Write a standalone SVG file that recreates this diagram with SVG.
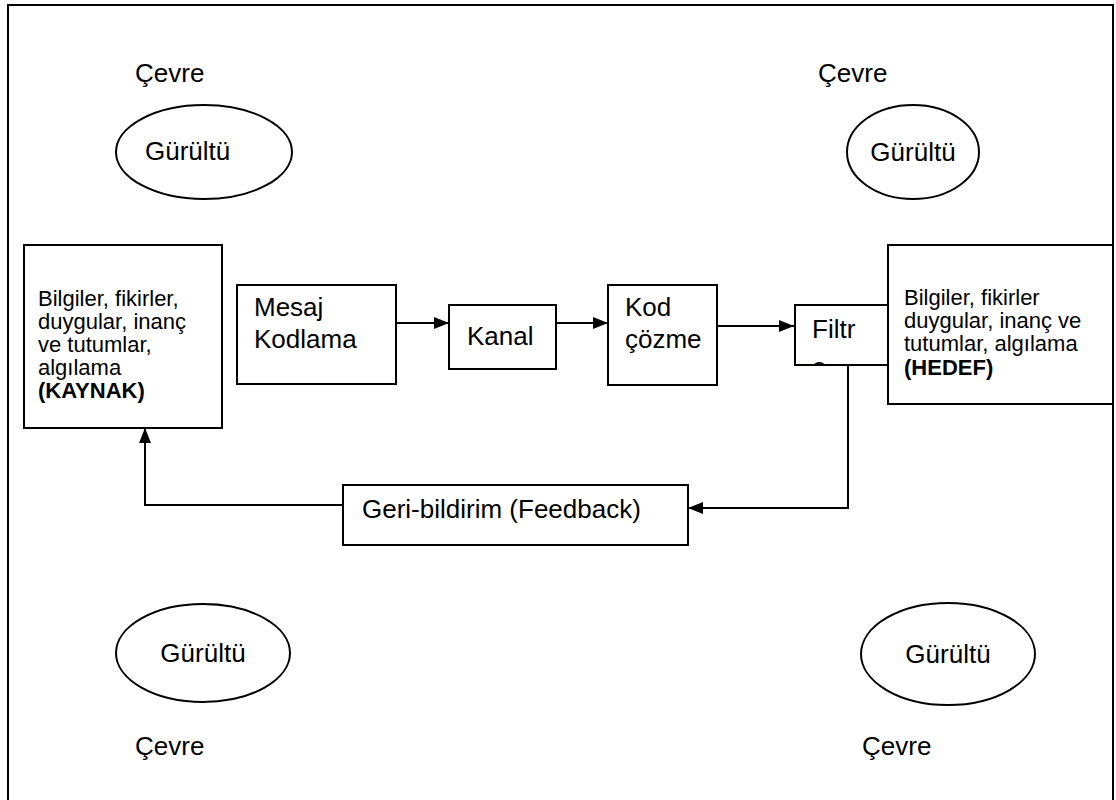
<svg xmlns="http://www.w3.org/2000/svg" width="1116" height="800" viewBox="0 0 1116 800">
<style>
.t{font-family:"Liberation Sans",Arial,sans-serif;font-size:26px;fill:#000}
.s{font-family:"Liberation Sans",Arial,sans-serif;font-size:22px;fill:#000}
.b{font-weight:bold}
.box{fill:#fff;stroke:#000;stroke-width:2}
.ell{fill:#fff;stroke:#000;stroke-width:2}
.ln{fill:none;stroke:#000;stroke-width:2}
</style>
<defs>
<marker id="ah" markerWidth="15" markerHeight="12" refX="15" refY="6" orient="auto" markerUnits="userSpaceOnUse">
<path d="M0,0 L15,6 L0,12 Z" fill="#000"/>
</marker>
<clipPath id="fclip"><rect x="796" y="306" width="90" height="58"/></clipPath>
</defs>
<rect x="0" y="0" width="1116" height="800" fill="#fff"/>
<path class="ln" d="M8,802 V5 H1113 V802"/>

<g id="cevre-tl"><text class="t" x="135" y="82">Çevre</text></g>
<g id="cevre-tr"><text class="t" x="818" y="82">Çevre</text></g>
<g id="cevre-bl"><text class="t" x="135" y="755">Çevre</text></g>
<g id="cevre-br"><text class="t" x="862" y="755">Çevre</text></g>

<g id="gurultu-tl"><ellipse class="ell" cx="204" cy="152" rx="88" ry="47"/><text class="t" x="145" y="160">Gürültü</text></g>
<g id="gurultu-tr"><ellipse class="ell" cx="913" cy="152" rx="66" ry="47"/><text class="t" x="913" y="161" text-anchor="middle">Gürültü</text></g>
<g id="gurultu-bl"><ellipse class="ell" cx="203" cy="653" rx="87" ry="49"/><text class="t" x="203" y="662" text-anchor="middle">Gürültü</text></g>
<g id="gurultu-br"><ellipse class="ell" cx="948" cy="654" rx="87" ry="51"/><text class="t" x="948" y="663" text-anchor="middle">Gürültü</text></g>

<g id="connectors">
<line class="ln" x1="396" y1="323" x2="449" y2="323" marker-end="url(#ah)"/>
<line class="ln" x1="556" y1="323" x2="608" y2="323" marker-end="url(#ah)"/>
<line class="ln" x1="717" y1="326" x2="794" y2="326" marker-end="url(#ah)"/>
<path class="ln" d="M848,364 V508 H688" marker-end="url(#ah)"/>
<path class="ln" d="M343,505 H145 V428" marker-end="url(#ah)"/>
</g>

<g id="kaynak">
<rect class="box" x="24" y="245" width="198" height="183"/>
<text class="s" x="38" y="306">Bilgiler, fikirler,</text>
<text class="s" x="38" y="329">duygular, inanç</text>
<text class="s" x="38" y="352">ve tutumlar,</text>
<text class="s" x="38" y="375">algılama</text>
<text class="s b" x="38" y="398">(KAYNAK)</text>
</g>

<g id="mesaj">
<rect class="box" x="237" y="285" width="159" height="99"/>
<text class="t" x="254" y="316">Mesaj</text>
<text class="t" x="254" y="348">Kodlama</text>
</g>

<g id="kanal">
<rect class="box" x="449" y="305" width="107" height="64"/>
<text class="t" x="467" y="345">Kanal</text>
</g>

<g id="kod">
<rect class="box" x="608" y="285" width="109" height="100"/>
<text class="t" x="625" y="316">Kod</text>
<text class="t" x="625" y="348">çözme</text>
</g>

<g id="filtre">
<rect class="box" x="795" y="305" width="100" height="60"/>
<g clip-path="url(#fclip)">
<text class="t" x="812" y="338">Filtr</text>
<text class="t" x="812" y="376">e</text>
</g>
</g>

<g id="hedef">
<rect class="box" x="888" y="245" width="225" height="159"/>
<text class="s" x="904" y="305">Bilgiler, fikirler</text>
<text class="s" x="904" y="328">duygular, inanç ve</text>
<text class="s" x="904" y="351">tutumlar, algılama</text>
<text class="s b" x="904" y="375">(HEDEF)</text>
</g>

<g id="feedback">
<rect class="box" x="343" y="485" width="345" height="60"/>
<text class="t" x="362" y="518">Geri-bildirim (Feedback)</text>
</g>
</svg>
